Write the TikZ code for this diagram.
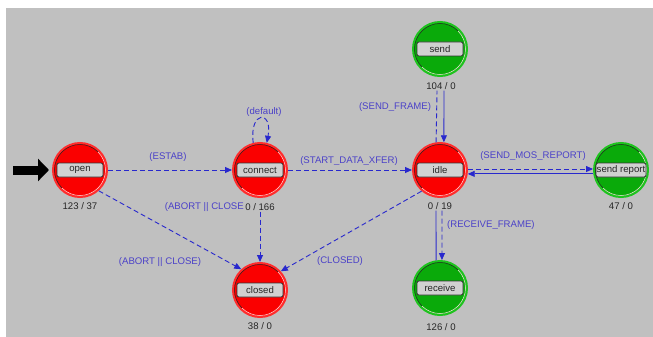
\documentclass[tikz,border=0pt]{standalone}
\usepackage{fontspec}
\setmainfont{Liberation Sans}
\usetikzlibrary{arrows.meta}

\definecolor{panel}{RGB}{192,192,192}
\definecolor{stred}{RGB}{250,0,0}
\definecolor{stredring}{RGB}{255,45,45}
\definecolor{stgreen}{RGB}{10,170,10}
\definecolor{stgreenring}{RGB}{30,195,30}
\definecolor{edgeblue}{RGB}{40,40,205}
\definecolor{labelblue}{RGB}{75,65,200}

\tikzset{
  state/.style={circle, minimum size=54pt, inner sep=0pt, line width=2pt},
  redstate/.style={state, fill=stred, draw=stredring},
  greenstate/.style={state, fill=stgreen, draw=stgreenring},
  ringdark/.style={black!85, line width=0.5pt},
  ringlight/.style={white!60!pink, line width=0.5pt},
  namebox/.style={draw=black!80, fill=black!18, rounded corners=2pt, line width=0.8pt,
    minimum width=46pt, minimum height=14pt, inner sep=1pt, text=black!85},
  count/.style={inner sep=1pt, text=black!85},
  trans/.style={edgeblue, line width=0.9pt, dash pattern=on 5pt off 3pt,
    -{Triangle[length=7pt,width=6pt]}},
  transline/.style={edgeblue, line width=0.9pt, dash pattern=on 5pt off 3pt},
  ret/.style={edgeblue, line width=0.9pt, -{Triangle[length=7pt,width=6pt]}},
  retline/.style={edgeblue, line width=0.9pt},
  translabel/.style={text=labelblue, inner sep=1pt}
}

\begin{document}
\begin{tikzpicture}[x=1pt, y=-1pt, font=\fontsize{9.6}{10}\selectfont]
\useasboundingbox (0,0) rectangle (653,337);
\fill[panel] (6,8) rectangle (653,337);

% states
\node[redstate] (open) at (80,170) {};
\node[redstate] (connect) at (260,170) {};
\node[redstate] (idle) at (440,170) {};
\node[redstate] (closed) at (260,290) {};
\node[greenstate] (send) at (440,49) {};
\node[greenstate] (sendrep) at (621,170) {};
\node[greenstate] (receive) at (440,288) {};
\foreach \s in {open,connect,idle,closed,send,sendrep,receive}{
  \draw[ringdark] (\s.center) ++(-45:25.5) arc[start angle=-45, end angle=-225, radius=25.5];
  \draw[ringlight] (\s.center) ++(-45:25.5) arc[start angle=-45, end angle=135, radius=25.5];
}

% name boxes
\node[namebox] (openbox) at (open) {open};
\node[namebox] (connectbox) at (connect) {connect};
\node[namebox] (idlebox) at (idle) {idle};
\node[namebox] (closedbox) at (closed) {closed};
\node[namebox] (sendbox) at (send) {send};
\node[namebox, minimum width=50pt, inner sep=0.5pt] (sendrepbox) at (sendrep) {send report};
\node[namebox] (receivebox) at (receive) {receive};

% counts
\node[count] (opencnt) at (80,206) {123 / 37};
\node[count] (connectcnt) at (260,207) {0 / 166};
\node[count] (idlecnt) at (440,206) {0 / 19};
\node[count] (closedcnt) at (260,326) {38 / 0};
\node[count] (sendcnt) at (441,86) {104 / 0};
\node[count] (sendrepcnt) at (621,206) {47 / 0};
\node[count] (receivecnt) at (441,327) {126 / 0};

% initial arrow
\coordinate (init) at (13,170);
\draw[black, line width=9pt, -{Triangle[length=11pt,width=22pt]}, shorten >=3pt] (init) -- (open);

% transitions
\draw[trans] (open) -- (connect);
\draw[trans] (connect) -- (idle);
\draw[trans] (open.-48) -- (closed.132);
\draw[trans] (connectcnt) -- (closed);
\draw[trans] (idle.-131) -- (closed.42);
\draw[trans] (connect.104) .. controls (249,110) and (273,110) .. (connect.76);
\draw[transline] (idle.98) -- ([xshift=-4pt]sendcnt.south);
\draw[ret] ([xshift=3pt]sendcnt.south) -- (idle.82);
\draw[trans] (idle.2) -- (sendrep.178);
\draw[ret] (sendrep.188) -- (idle.-8);
\draw[trans] ([xshift=2pt]idlecnt.south) -- (receive.86);
\draw[retline] (receive.98) -- ([xshift=-4pt]idlecnt.south);

% labels
\node[translabel] (estab) at (168,157) {(ESTAB)};
\node[translabel] (xfer) at (349,161) {(START\_DATA\_XFER)};
\node[translabel] (dflt) at (264,112) {(default)};
\node[translabel, anchor=east] (abort1) at (245,207) {(ABORT || CLOSE};
\node[translabel] (abort2) at (160,262) {(ABORT || CLOSE)};
\node[translabel] (closedlbl) at (340,261) {(CLOSED)};
\node[translabel] (sendframe) at (395,107) {(SEND\_FRAME)};
\node[translabel] (mosrep) at (533,156) {(SEND\_MOS\_REPORT)};
\node[translabel, anchor=west] (recvframe) at (446,225) {(RECEIVE\_FRAME)};
\end{tikzpicture}
\end{document}
